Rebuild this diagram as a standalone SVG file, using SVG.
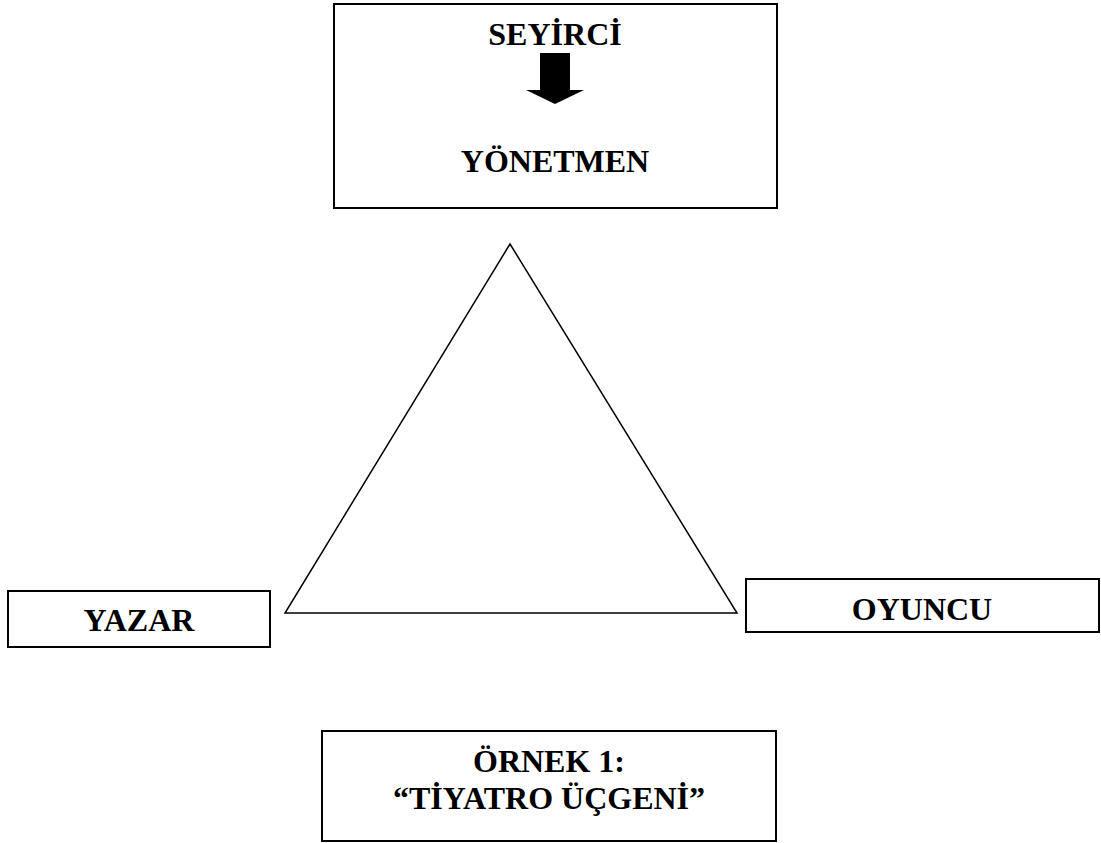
<svg xmlns="http://www.w3.org/2000/svg" width="1101" height="843" viewBox="0 0 1101 843">
<style>
.box{fill:#fff;stroke:#000;stroke-width:2}
.lbl{font-family:"Liberation Serif","Times New Roman",serif;font-weight:bold;font-size:32px;fill:#000;text-anchor:middle}
.tri{fill:none;stroke:#000;stroke-width:1.5;stroke-linejoin:miter}
</style>
<rect width="1101" height="843" fill="#fff"/>
<g id="connectors">
<polygon class="tri" points="510,244 737,613 285,613"/>
</g>
<g id="node-seyirci-yonetmen">
<rect class="box" x="334" y="4" width="443" height="204"/>
<text class="lbl" x="555" y="45">SEYİRCİ</text>
<polygon points="540,53 570,53 570,90 584,90 555,104 526,90 540,90" fill="#000"/>
<text class="lbl" x="555" y="172">YÖNETMEN</text>
</g>
<g id="node-yazar">
<rect class="box" x="8" y="591" width="262" height="56"/>
<text class="lbl" x="139" y="631">YAZAR</text>
</g>
<g id="node-oyuncu">
<rect class="box" x="746" y="579" width="353" height="53"/>
<text class="lbl" x="922" y="620">OYUNCU</text>
</g>
<g id="node-ornek">
<rect class="box" x="322" y="731" width="454" height="110"/>
<text class="lbl" x="549" y="772">ÖRNEK 1:</text>
<text class="lbl" x="549" y="809">“TİYATRO ÜÇGENİ”</text>
</g>
</svg>
